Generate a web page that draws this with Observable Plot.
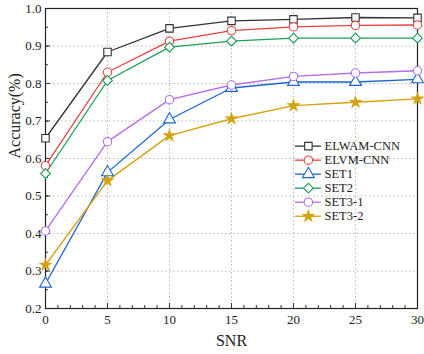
<!DOCTYPE html>
<html>
<head>
<meta charset="utf-8">
<script src="https://cdn.jsdelivr.net/npm/d3@7"></script>
<script src="https://cdn.jsdelivr.net/npm/@observablehq/plot@0.6"></script>
<style>
  body { margin: 0; background: #fff; }
  #chart svg, #chart svg text { font-family: "Liberation Serif", serif !important; }
</style>
</head>
<body>
<div id="chart"></div>
<script>
const snr = [0, 5, 10, 15, 20, 25, 30];
const seriesNames = ["ELWAM-CNN", "ELVM-CNN", "SET1", "SET2", "SET3-1", "SET3-2"];
const elwam = [0.654, 0.884, 0.947, 0.967, 0.971, 0.976, 0.975];
const elvm  = [0.581, 0.830, 0.913, 0.941, 0.951, 0.955, 0.956];
const set1  = [0.266, 0.563, 0.704, 0.788, 0.804, 0.804, 0.811];
const set2  = [0.560, 0.808, 0.897, 0.913, 0.921, 0.921, 0.921];
const set31 = [0.407, 0.645, 0.757, 0.796, 0.819, 0.828, 0.834];
const set32 = [0.316, 0.541, 0.661, 0.706, 0.741, 0.750, 0.759];
const xTicks = [0, 5, 10, 15, 20, 25, 30];
const yTicks = [0.2, 0.3, 0.4, 0.5, 0.6, 0.7, 0.8, 0.9, 1.0];

const colors  = ["#333333", "#e8423f", "#1a66d1", "#1e9e5a", "#b46ee6", "#d4a20f"];
const symbols = ["square", "circle", "triangle", "diamond2", "circle", "star"];
const fills   = ["white", "white", "white", "white", "white", "#d4a20f"];
const radii   = [4.2, 4.2, 4.4, 4.4, 4.2, 3.4];
const values  = [elwam, elvm, set1, set2, set31, set32];

const rows = [];
seriesNames.forEach((name, i) => {
  snr.forEach((x, j) => rows.push({name, i, x, y: values[i][j]}));
});

// legend layout (in data units)
const legend = seriesNames.map((name, i) => ({
  name, i,
  y: 0.633 - i * 0.0374,
  x1: 20.15, x2: 22.25, xm: 21.2, xt: 22.5
}));

const xMinor = d3.range(0, 31, 1);
const yMinor = d3.range(0.2, 1.0001, 0.05).map(v => +v.toFixed(2));

const plot = Plot.plot({
  width: 424,
  height: 354,
  marginLeft: 45,
  marginRight: 7,
  marginTop: 8,
  marginBottom: 46,
  style: {fontFamily: "'Liberation Serif', serif", background: "white"},
  x: {domain: [0, 30]},
  y: {domain: [0.2, 1.0]},
  marks: [
    Plot.gridX(xTicks, {stroke: "#999", strokeOpacity: 0.7, strokeDasharray: "1.5,2.5"}),
    Plot.gridY(yTicks, {stroke: "#999", strokeOpacity: 0.7, strokeDasharray: "1.5,2.5"}),
    Plot.axisX(xMinor, {tickSize: -3, text: null, label: null, stroke: "#333"}),
    Plot.axisY(yMinor, {tickSize: -3, text: null, label: null, stroke: "#333"}),
    Plot.axisX(xTicks, {tickSize: -5, tickPadding: 11, fontSize: 13, label: null, stroke: "#333", fill: "#222"}),
    Plot.axisY(yTicks, {tickSize: -5, tickPadding: 9, fontSize: 13, label: null, tickFormat: d3.format(".1f"), stroke: "#333", fill: "#222"}),
    Plot.frame({stroke: "#222", strokeWidth: 1.2}),
    ...seriesNames.map((name, i) =>
      Plot.line(rows.filter(d => d.i === i), {x: "x", y: "y", stroke: colors[i], strokeWidth: 1.3})
    ),
    ...seriesNames.map((name, i) =>
      Plot.dot(rows.filter(d => d.i === i), {x: "x", y: "y", stroke: colors[i], fill: fills[i],
        symbol: symbols[i], r: radii[i], strokeWidth: 1.1})
    ),
    // legend
    ...legend.map(l =>
      Plot.ruleY([l], {y: "y", x1: "x1", x2: "x2", stroke: colors[l.i], strokeWidth: 1.3})
    ),
    ...legend.map(l =>
      Plot.dot([l], {x: "xm", y: "y", stroke: colors[l.i], fill: fills[l.i], symbol: symbols[l.i], r: radii[l.i], strokeWidth: 1.1})
    ),
    Plot.text(legend, {x: "xt", y: "y", text: "name", textAnchor: "start", fontSize: 12.5, fill: "#222"}),
    // axis titles
    Plot.text(["SNR"], {frameAnchor: "bottom", dy: 37, fontSize: 16, fill: "#222"}),
    Plot.text(["Accuracy(%)"], {frameAnchor: "left", dx: -31, rotate: -90, fontSize: 16, fill: "#222"})
  ]
});
document.getElementById("chart").appendChild(plot);
</script>
</body>
</html>
